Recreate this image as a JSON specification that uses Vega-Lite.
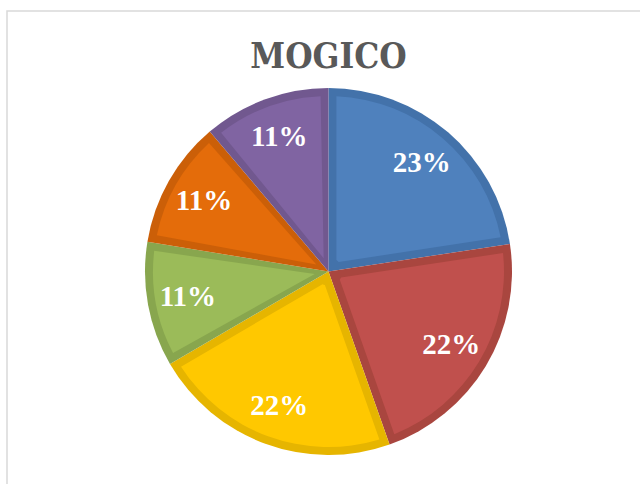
{
  "$schema": "https://vega.github.io/schema/vega-lite/v6.json",
  "autosize": "none",
  "padding": {"left": 7, "top": 11, "right": 0, "bottom": 0},
  "width": 643,
  "height": 521,
  "background": "white",
  "title": {
    "text": "MOGICO",
    "font": "DejaVu Serif Condensed",
    "fontSize": 35,
    "fontWeight": "bold",
    "color": "#595959",
    "anchor": "middle",
    "frame": "group",
    "baseline": "alphabetic",
    "offset": 0,
    "dy": 93
  },
  "layer": [
    {
      "data": {"values": [{"frame": 1}]},
      "mark": {"type": "rect", "fill": "transparent", "stroke": "#d9d9d9", "strokeWidth": 1.5},
      "encoding": {}
    },
    {
      "data": {"name": "slices"},
      "mark": {"type": "arc", "outerRadius": 183.5},
      "encoding": {
        "theta": {"field": "value", "type": "quantitative", "stack": true},
        "order": {"field": "i", "type": "quantitative"},
        "color": {
          "field": "cat", "type": "nominal", "legend": null,
          "scale": {"domain": ["A","B","C","D","E","F"], "range": ["#4372AA","#A9463F","#E6B500","#88A64E","#CB5F08","#71588F"]}
        }
      }
    },
    {
      "data": {"name": "slices"},
      "mark": {"type": "arc", "outerRadius": 175.5, "innerRadius": 14, "padAngle": 0.09},
      "encoding": {
        "theta": {"field": "value", "type": "quantitative", "stack": true},
        "order": {"field": "i", "type": "quantitative"},
        "color": {
          "field": "cat", "type": "nominal", "legend": null,
          "scale": {"domain": ["A","B","C","D","E","F"], "range": ["#4F81BD","#C0504D","#FFC800","#9BBB59","#E46C0A","#8064A2"]}
        }
      }
    },
    {
      "data": {"name": "slices"},
      "mark": {"type": "text", "radius": 143, "font": "Liberation Serif", "fontSize": 29, "fontWeight": "bold", "fill": "white"},
      "encoding": {
        "theta": {"field": "value", "type": "quantitative", "stack": true},
        "order": {"field": "i", "type": "quantitative"},
        "text": {"field": "label"}
      }
    }
  ],
  "datasets": {
    "slices": [
      {"cat": "A", "value": 22.6, "label": "23%", "i": 1},
      {"cat": "B", "value": 22.0, "label": "22%", "i": 2},
      {"cat": "C", "value": 22.0, "label": "22%", "i": 3},
      {"cat": "D", "value": 11.0, "label": "11%", "i": 4},
      {"cat": "E", "value": 11.2, "label": "11%", "i": 5},
      {"cat": "F", "value": 11.2, "label": "11%", "i": 6}
    ]
  },
  "resolve": {"scale": {"color": "independent", "theta": "shared"}}
}
